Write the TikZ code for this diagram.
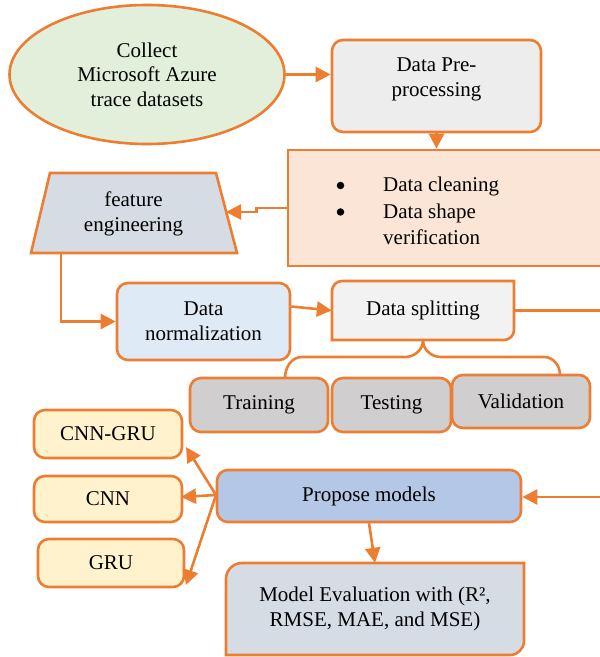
\documentclass[tikz,border=0pt]{standalone}
\usepackage{fontspec}
\setmainfont{Liberation Serif}
\usetikzlibrary{shapes.geometric,arrows.meta}
\definecolor{org}{HTML}{ED7D31}
\definecolor{cEll}{HTML}{E2EFDA}
\definecolor{cPre}{HTML}{EDEDED}
\definecolor{cBul}{HTML}{FBE5D6}
\definecolor{cTrap}{HTML}{D6DCE4}
\definecolor{cNorm}{HTML}{DEEBF7}
\definecolor{cSplit}{HTML}{F2F2F2}
\definecolor{cSet}{HTML}{D0CECE}
\definecolor{cMod}{HTML}{FFF2CC}
\definecolor{cProp}{HTML}{B4C7E7}
\definecolor{cEval}{HTML}{D6DCE4}
\begin{document}
\begin{tikzpicture}[x=1pt,y=1pt,
  font=\fontsize{21}{25}\selectfont,
  conn/.style={draw=org, line width=2.6pt},
  arr/.style={conn, -{Triangle[length=15pt,width=15pt]}},
  box/.style={draw=org, line width=2.6pt, rounded corners=11pt, align=center, inner sep=0pt},
  plain/.style={align=center, inner sep=0pt},
  dot/.style={fill=black, circle, inner sep=0pt, minimum size=7.5pt}]
\clip (0,0) rectangle (600,657);
% collect
\node[ellipse, draw=org, line width=2.6pt, fill=cEll, minimum width=275pt, minimum height=139pt, inner sep=0pt, align=center, font=\fontsize{21}{24.5}\selectfont] (coll) at (147,582.5) {Collect\\Microsoft Azure\\trace datasets};
% pre-processing
\node[box, fill=cPre, minimum width=209pt, minimum height=92pt] (pre) at (436.5,571) {};
\node[plain] (pretxt) at (436.5,578) {Data Pre-\\processing};
% bullets
\node[draw=org, line width=2.6pt, fill=cBul, minimum width=317pt, minimum height=116pt, inner sep=0pt] (blt) at (446.5,449) {};
\node[anchor=west, align=left, inner sep=0pt, font=\fontsize{21}{26.5}\selectfont] (bltxt) at (383,446) {Data cleaning\\Data shape\\verification};
\node[dot] (b1) at (340.5,471.5) {};
\node[dot] (b2) at (340.5,445) {};
% feature engineering trapezoid
\filldraw[conn, fill=cTrap] (31,404) -- (50,484) -- (216,484) -- (237,404) -- cycle;
\node[plain] (feat) at (133.5,443) {feature\\engineering};
\coordinate (ftR) at (226,445);
\coordinate (ftB) at (61,404);
% normalization
\node[box, fill=cNorm, minimum width=173pt, minimum height=77pt] (norm) at (203.5,335.5) {Data\\normalization};
% splitting
\filldraw[conn, fill=cSplit] (332,317) -- (332,366) arc[start angle=180,end angle=90,radius=10] -- (514,376) -- (514,327) arc[start angle=0,end angle=-90,radius=10] -- cycle;
\node[plain, minimum width=182pt, minimum height=59pt] (split) at (423,346.5) {Data splitting};
% sets
\node[box, fill=cSet, minimum width=138pt, minimum height=54pt] (train) at (259,252) {Training};
\node[box, fill=cSet, minimum width=119pt, minimum height=54pt] (test) at (391.5,252) {Testing};
\node[box, fill=cSet, minimum width=138pt, minimum height=53pt] (valid) at (521,255.5) {Validation};
% models
\node[box, fill=cMod, minimum width=148pt, minimum height=48pt] (cnngru) at (108,223) {CNN-GRU};
\node[box, fill=cMod, minimum width=148pt, minimum height=46pt] (cnn) at (108,158) {CNN};
\node[box, fill=cMod, minimum width=146pt, minimum height=48pt] (gru) at (111,94) {GRU};
\node[box, fill=cProp, minimum width=304pt, minimum height=52pt] (prop) at (369,161) {Propose models};
% evaluation
\filldraw[conn, fill=cEval] (226,2) -- (226,78) arc[start angle=180,end angle=90,radius=16] -- (524,94) -- (524,16) arc[start angle=0,end angle=-90,radius=14] -- cycle;
\node[plain, minimum width=298pt, minimum height=92pt] (eval) at (375,48) {Model Evaluation with (R²,\\RMSE, MAE, and MSE)};
% connectors
\draw[arr] (coll.east) -- (pre.west |- coll.east);
\draw[arr] (pre.south) -- (pre.south |- blt.north);
\draw[arr] (blt.west) -- ++(-30,0) -- ++(0,-4) -- (ftR);
\draw[arr] (ftB) -- (ftB |- norm.west) -- (norm.west);
\draw[arr] (norm.east) ++(0,15) -- (split.west);
\coordinate (edgeA) at (612,346.5);
\coordinate (edgeB) at (612,160);
\draw[arr] (split.east) -- (edgeA) -- (edgeB) -- (prop.east |- edgeB);
\coordinate (trTop) at (285,279);
\coordinate (vaTop) at (560,282);
\draw[conn] (split.south) to[out=-90,in=0] (405,300) -- (302,300) to[out=180,in=90] (trTop);
\draw[conn] (split.south) to[out=-90,in=180] (441,300) -- (544,300) to[out=0,in=90] (vaTop);
\coordinate (hub) at (216,162);
\draw[arr] (hub) -- (186,210);
\draw[arr] (hub) -- (181,160);
\draw[arr] (hub) -- (186,72);
\draw[arr] (prop.south) -- (eval.north);
\end{tikzpicture}
\end{document}
